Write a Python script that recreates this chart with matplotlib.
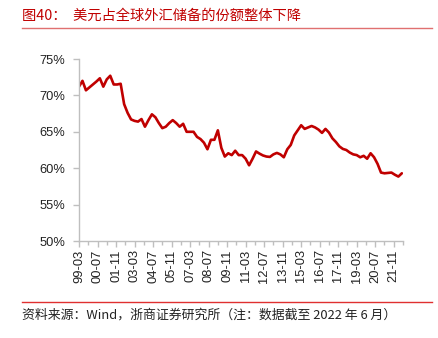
import matplotlib
matplotlib.use("Agg")
import matplotlib.pyplot as plt
import numpy as np

# Quarterly USD share of global FX reserves (%), 1999Q1 - 2022Q2
usd_share = [
    71.2, 72.0, 70.7, 71.1, 71.5, 71.9, 72.35, 71.2, 72.2, 72.7,
    71.5, 71.5, 71.6, 68.8, 67.6, 66.7, 66.5, 66.4, 66.75, 65.7,
    66.6, 67.4, 67.0, 66.2, 65.5, 65.7, 66.2, 66.6, 66.2, 65.7,
    66.1, 65.0, 65.0, 65.0, 64.3, 64.0, 63.5, 62.6, 63.9, 63.9,
    65.2, 62.8, 61.6, 62.05, 61.8, 62.4, 61.8, 61.8, 61.3, 60.4,
    61.3, 62.3, 62.0, 61.75, 61.6, 61.55, 61.9, 62.1, 61.9, 61.5,
    62.6, 63.2, 64.5, 65.2, 65.9, 65.4, 65.6, 65.8, 65.6, 65.3,
    64.85, 65.4, 64.9, 64.1, 63.6, 63.0, 62.65, 62.5, 62.15, 61.9,
    61.8, 61.5, 61.7, 61.3, 62.05, 61.5, 60.6, 59.4, 59.3, 59.35,
    59.4, 59.1, 58.85, 59.3,
]
tick_labels = ["99-03", "00-07", "01-11", "03-03", "04-07", "05-11", "07-03",
               "08-07", "09-11", "11-03", "12-07", "13-11", "15-03", "16-07",
               "17-11", "19-03", "20-07", "21-11"]
y_ticks = [50, 55, 60, 65, 70, 75]
title_text = "图40：  美元占全球外汇储备的份额整体下降"
source_text = "资料来源：Wind，浙商证券研究所（注：数据截至 2022 年 6 月）"

W, H = 439, 338
fig = plt.figure(figsize=(W / 100, H / 100), dpi=100)
fig.patch.set_facecolor("white")

cjk = ["Noto Sans CJK SC", "DejaVu Sans"]
red = "#C00000"

# months since 1999-03
x = np.arange(len(usd_share)) * 3

ax = fig.add_axes([79 / W, 1 - 241 / H, (403 - 79) / W, (241 - 59) / H])
ax.plot(x, usd_share, color=red, lw=1.9, solid_joinstyle="round", solid_capstyle="round")
ax.set_xlim(0, x[-1])
ax.set_ylim(50, 75)

ax.set_yticks(y_ticks)
ax.set_yticklabels([f"{v}%" for v in y_ticks], fontsize=9.3, family="Liberation Sans", color="#222222")
ax.set_xticks(np.arange(len(tick_labels)) * 16)
ax.set_xticklabels(tick_labels, rotation=90, fontsize=9.3, family="Liberation Sans", color="#222222")
ax.set_xticks(np.arange(len(tick_labels)) * 16 + 8, minor=True)

for s in ["top", "right"]:
    ax.spines[s].set_visible(False)
for s in ["left", "bottom"]:
    ax.spines[s].set_color("#BFBFBF")
    ax.spines[s].set_linewidth(1.0)
ax.tick_params(axis="both", which="both", color="#BFBFBF", width=1.0)
ax.tick_params(axis="x", which="major", length=4, pad=2)
ax.tick_params(axis="x", which="minor", length=3)
ax.tick_params(axis="y", which="major", length=4, pad=6)

# Title and lines
fig.text(22 / W, 1 - 16 / H, title_text, color=red, fontsize=10.3, family=cjk,
         ha="left", va="center")
fig.add_artist(plt.Line2D([22 / W, 432 / W], [1 - 27.5 / H, 1 - 27.5 / H],
                          color="#E07070", lw=1.0, transform=fig.transFigure))
fig.add_artist(plt.Line2D([22 / W, 432 / W], [1 - 302 / H, 1 - 302 / H],
                          color="#E03030", lw=1.0, transform=fig.transFigure))
fig.text(22 / W, 1 - 315 / H, source_text, color="#222222", fontsize=9.3, family=cjk,
         ha="left", va="center")

fig.savefig("out.png", dpi=100, facecolor="white")
